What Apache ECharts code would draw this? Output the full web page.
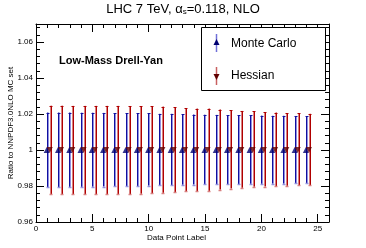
<!DOCTYPE html>
<html><head><meta charset="utf-8">
<script src="https://cdn.jsdelivr.net/npm/echarts@6/dist/echarts.min.js"></script>
<style>html,body{margin:0;padding:0;background:#fff}#c{width:366px;height:248px}</style>
</head><body><div id="c"></div>
<script>
const points = [1,2,3,4,5,6,7,8,9,10,11,12,13,14,15,16,17,18,19,20,21,22,23,24];
const mcCentral = [1,1,1,1,1,1,1,1,1,1,1,1,1,1,1,1,1,1,1,1,1,1,1,1];
const mcUpper = [1.0208,1.0208,1.0208,1.0207,1.0207,1.0206,1.0205,1.0204,1.0204,1.0203,1.0201,1.0201,1.0200,1.0197,1.0196,1.0195,1.0194,1.0193,1.0192,1.0191,1.0190,1.0190,1.0189,1.0188];
const mcLower = [0.9794,0.9794,0.9795,0.9795,0.9796,0.9797,0.9798,0.9799,0.9800,0.9802,0.9804,0.9805,0.9807,0.9808,0.9809,0.9810,0.9810,0.9811,0.9812,0.9812,0.9813,0.9813,0.9814,0.9814];
const hesCentral = [1,1,1,1,1,1,1,1,1,1,1,1,1,1,1,1,1,1,1,1,1,1,1,1];
const hesUpper = [1.0246,1.0246,1.0245,1.0245,1.0245,1.0245,1.0245,1.0244,1.0244,1.0243,1.0241,1.0238,1.0232,1.0230,1.0230,1.0225,1.0221,1.0217,1.0215,1.0210,1.0208,1.0204,1.0203,1.0201];
const hesLower = [0.9755,0.9755,0.9755,0.9755,0.9755,0.9755,0.9755,0.9755,0.9757,0.9759,0.9762,0.9766,0.9770,0.9770,0.9773,0.9780,0.9786,0.9790,0.9796,0.9797,0.9799,0.9801,0.9803,0.9805];
const mcOffset = -0.05, hesOffset = 0.22;

const chart = echarts.init(document.getElementById('c'), null, {renderer:'canvas'});
const FONT = 'Liberation Sans';

function errBar(dark, light, darkFirst){
  return function(params, api){
    const x = api.value(0), lo = api.value(1), hi = api.value(2);
    const pLo = api.coord([x, lo]), pHi = api.coord([x, hi]);
    const cx = Math.round(pLo[0]) + 0.5;
    const x1 = darkFirst ? cx : cx + 1, x2 = darkFirst ? cx + 1 : cx;
    return {type:'group', children:[
      {type:'line', shape:{x1:x2,y1:pHi[1],x2:x2,y2:pLo[1]}, style:{stroke:light,lineWidth:1}},
      {type:'line', shape:{x1:x1,y1:pHi[1],x2:x1,y2:pLo[1]}, style:{stroke:dark,lineWidth:1}},
      {type:'line', shape:{x1:cx-1,y1:Math.round(pHi[1])+0.5,x2:cx+2,y2:Math.round(pHi[1])+0.5}, style:{stroke:dark,lineWidth:1}},
      {type:'line', shape:{x1:cx-1,y1:Math.round(pLo[1])+0.5,x2:cx+2,y2:Math.round(pLo[1])+0.5}, style:{stroke:light,lineWidth:1.5}}
    ]};
  };
}

const mcBars = points.map((p,i)=>[p+mcOffset, mcLower[i], mcUpper[i]]);
const hesBars = points.map((p,i)=>[p+hesOffset, hesLower[i], hesUpper[i]]);
const mcPts = points.map((p,i)=>[p+mcOffset, mcCentral[i]]);
const hesPts = points.map((p,i)=>[p+hesOffset, hesCentral[i]]);

const axisCommon = {
  axisLine:{show:true, onZero:false, lineStyle:{color:'#000',width:1}},
  splitLine:{show:false}
};

chart.setOption({
  animation:false,
  title:{
    text:'LHC 7 TeV, α{s|s}=0.118, NLO', left:'center', top:-3,
    textStyle:{fontFamily:FONT, fontSize:13, fontWeight:'normal', color:'#000',
      rich:{s:{fontFamily:FONT, fontSize:8, verticalAlign:'bottom', padding:[6,0,0,0]}}}
  },
  grid:{left:36, right:37, top:24, bottom:26, containLabel:false, outerBoundsMode:'none'},
  xAxis:[
    Object.assign({}, axisCommon, {
      type:'value', min:0, max:26, interval:5, position:'bottom',
      name:'Data Point Label', nameLocation:'middle', nameGap:12, nameMoveOverlap:false,
      nameTextStyle:{fontFamily:FONT, fontSize:8, color:'#000', padding:[0,12,0,0]},
      axisTick:{show:true, inside:true, length:8, lineStyle:{color:'#000'}},
      minorTick:{show:true, splitNumber:5, length:4, lineStyle:{color:'#000'}},
      axisLabel:{fontFamily:FONT, fontSize:8, color:'#000', margin:3,
        formatter:v=> (v%5===0 ? String(v) : '')}
    }),
    Object.assign({}, axisCommon, {
      type:'value', min:0, max:26, interval:5, position:'top',
      axisTick:{show:true, inside:true, length:8, lineStyle:{color:'#000'}},
      minorTick:{show:true, splitNumber:5, length:4, lineStyle:{color:'#000'}},
      axisLabel:{show:false}
    })
  ],
  yAxis:[
    Object.assign({}, axisCommon, {
      type:'value', min:0.96, max:1.07, interval:0.02, position:'left',
      name:'Ratio to NNPDF3.0NLO MC set', nameLocation:'middle', nameGap:21, nameMoveOverlap:false,
      nameTextStyle:{fontFamily:FONT, fontSize:8, color:'#000'},
      axisTick:{show:true, inside:true, length:8, lineStyle:{color:'#000'}},
      minorTick:{show:true, splitNumber:5, length:4, lineStyle:{color:'#000'}},
      axisLabel:{fontFamily:FONT, fontSize:8, color:'#000', margin:3, showMaxLabel:false,
        formatter:v=>{ const r=Math.round(v*100)/100; return r>1.065?'':String(r); }}
    }),
    Object.assign({}, axisCommon, {
      type:'value', min:0.96, max:1.07, interval:0.02, position:'right',
      axisTick:{show:true, inside:true, length:8, lineStyle:{color:'#000'}},
      minorTick:{show:true, splitNumber:5, length:4, lineStyle:{color:'#000'}},
      axisLabel:{show:false}
    })
  ],
  graphic:[
    {type:'text', left:59, top:55, style:{text:'Low-Mass Drell-Yan', font:'bold 11px "Liberation Sans"', fill:'#000'}},
    {type:'rect', shape:{x:201.5, y:27.5, width:124, height:63}, style:{fill:'#fff', stroke:'#000', lineWidth:1}, z:10},
    {type:'line', shape:{x1:216.5,y1:34,x2:216.5,y2:52}, style:{stroke:'#7070d8', lineWidth:1.5}, z:11},
    {type:'polygon', shape:{points:[[216.5,39],[213.5,45],[219.5,45]]}, style:{fill:'#000070'}, z:12},
    {type:'text', x:231, y:44, style:{text:'Monte Carlo', font:'12px "Liberation Sans"', fill:'#000', verticalAlign:'middle'}, z:12},
    {type:'line', shape:{x1:216.5,y1:67,x2:216.5,y2:85}, style:{stroke:'#c86060', lineWidth:1.5}, z:11},
    {type:'polygon', shape:{points:[[216.5,80],[213.5,74],[219.5,74]]}, style:{fill:'#600000'}, z:12},
    {type:'text', x:231, y:76, style:{text:'Hessian', font:'12px "Liberation Sans"', fill:'#000', verticalAlign:'middle'}, z:12}
  ],
  series:[
    {type:'custom', name:'Monte Carlo', xAxisIndex:0, yAxisIndex:0, data:mcBars, renderItem:errBar('#1010a0','#9090e0',true), z:2},
    {type:'custom', name:'Hessian', xAxisIndex:0, yAxisIndex:0, data:hesBars, renderItem:errBar('#b00000','#d88080',false), z:3},
    {type:'scatter', name:'Monte Carlo', data:mcPts, symbol:'triangle', symbolSize:[6,6], itemStyle:{color:'#000070'}, z:5},
    {type:'scatter', name:'Hessian', data:hesPts, symbol:'triangle', symbolRotate:180, symbolSize:[6,6], itemStyle:{color:'#600000'}, z:6}
  ]
});
</script></body></html>
